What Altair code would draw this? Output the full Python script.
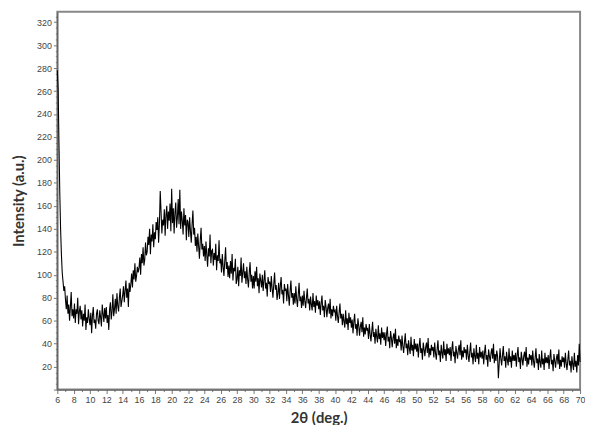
import altair as alt
import pandas as pd

# 2-theta from 6.0 to 70.0 in 0.1 deg steps; intensities (rows of 1 deg)
theta_start = 6.0
theta_step = 0.1
intensity = [
    278, 262, 215, 172, 140, 118, 102, 94, 86, 90,
    78, 70, 82, 66, 74, 60, 72, 85, 64, 70,
    62, 75, 58, 70, 66, 80, 57, 68, 73, 61,
    69, 55, 66, 60, 74, 52, 63, 58, 70, 62,
    56, 67, 49, 64, 72, 58, 61, 53, 66, 70,
    60, 57, 69, 63, 55, 74, 66, 59, 71, 62,
    72, 58, 65, 52, 70, 76, 61, 68, 83, 64,
    70, 79, 66, 84, 73, 68, 80, 88, 72, 77,
    82, 90, 76, 86, 95, 80, 88, 72, 93, 85,
    92, 101, 89, 104, 96, 110, 94, 99, 107, 102,
    106, 115, 100, 118, 110, 124, 108, 113, 128, 117,
    120, 133, 126, 140, 118, 135, 129, 144, 124, 137,
    131, 146, 139, 150, 128, 144, 173, 155, 136, 148,
    143, 157, 134, 152, 160, 140, 155, 147, 162, 138,
    175, 145, 158, 136, 154, 163, 141, 150, 166, 144,
    174, 140, 155, 147, 135, 158, 143, 152, 130, 148,
    146, 133, 150, 138, 128, 144, 156, 135, 141, 125,
    133, 120, 136, 125, 114, 130, 141, 122, 127, 116,
    125, 112, 129, 117, 107, 123, 116, 135, 110, 121,
    122, 108, 119, 113, 127, 104, 117, 112, 130, 110,
    114, 102, 118, 107, 99, 112, 124, 105, 111, 98,
    108, 97, 112, 101, 118, 95, 106, 103, 114, 92,
    96, 107, 90, 104, 99, 115, 93, 102, 110, 97,
    103, 92, 107, 96, 89, 102, 111, 94, 100, 88,
    99, 88, 103, 94, 107, 90, 97, 84, 101, 95,
    89, 100, 86, 95, 104, 88, 93, 81, 98, 92,
    94, 85, 99, 88, 80, 92, 102, 87, 91, 78,
    84, 93, 79, 90, 98, 83, 87, 75, 92, 86,
    88, 77, 92, 82, 73, 86, 95, 80, 84, 74,
    84, 75, 90, 79, 72, 83, 93, 77, 81, 71,
    82, 73, 86, 77, 71, 80, 88, 75, 79, 69,
    81, 74, 69, 84, 72, 77, 67, 82, 73, 78,
    70, 77, 65, 75, 82, 69, 73, 63, 78, 72,
    63, 71, 75, 66, 79, 62, 70, 64, 73, 68,
    69, 60, 73, 64, 58, 67, 75, 62, 66, 56,
    66, 59, 54, 69, 57, 62, 52, 67, 58, 63,
    54, 61, 49, 59, 66, 53, 57, 47, 62, 56,
    47, 55, 59, 50, 63, 46, 54, 48, 57, 52,
    53, 44, 57, 48, 42, 51, 59, 46, 50, 40,
    53, 46, 41, 56, 44, 49, 39, 54, 45, 50,
    43, 50, 38, 48, 55, 42, 46, 36, 51, 45,
    37, 45, 49, 40, 53, 36, 44, 38, 47, 42,
    43, 34, 47, 38, 32, 41, 49, 36, 40, 30,
    43, 36, 31, 46, 34, 39, 29, 44, 35, 40,
    33, 40, 28, 38, 45, 32, 36, 26, 41, 35,
    29, 37, 41, 32, 45, 28, 36, 30, 39, 34,
    37, 28, 41, 32, 26, 35, 43, 30, 34, 24,
    39, 32, 27, 42, 30, 35, 25, 40, 31, 36,
    30, 37, 25, 35, 42, 29, 33, 23, 38, 32,
    27, 35, 39, 30, 43, 26, 34, 28, 37, 32,
    35, 26, 39, 30, 24, 33, 41, 28, 32, 22,
    36, 29, 24, 39, 27, 32, 22, 37, 28, 33,
    27, 34, 22, 32, 39, 26, 30, 20, 35, 29,
    24, 32, 36, 27, 40, 23, 31, 25, 34, 29,
    10, 23, 36, 27, 21, 30, 38, 25, 29, 19,
    33, 26, 21, 36, 24, 29, 19, 34, 25, 30,
    25, 32, 20, 30, 37, 24, 28, 18, 33, 27,
    21, 29, 33, 25, 37, 20, 28, 22, 31, 26,
    30, 21, 34, 25, 19, 28, 36, 23, 27, 17,
    31, 24, 19, 34, 22, 27, 17, 32, 23, 28,
    23, 30, 18, 28, 35, 22, 26, 16, 31, 25,
    19, 27, 31, 22, 35, 18, 26, 20, 29, 24,
    28, 19, 32, 23, 17, 26, 34, 21, 25, 15,
    29, 22, 17, 32, 20, 25, 15, 30, 21, 40,
    24,
]

x_ticks = [6 + 0.5 * i for i in range(129)]      # 6 .. 70, labels every 2
y_ticks = [5 * i for i in range(66)]              # 0 .. 325, labels every 20

theta = [round(theta_start + theta_step * i, 2) for i in range(len(intensity))]
df = pd.DataFrame({"theta": theta, "intensity": intensity})

FONT = "Liberation Sans"
TFONT = "Lato"

x_axis = alt.Axis(
    title="2θ (deg.)",
    values=x_ticks,
    format="d",
    labelExpr="datum.value % 2 === 0 ? datum.label : ''",
    tickSize={"condition": {"test": "datum.value % 2 === 0", "value": 4}, "value": 2},
    labelFont=FONT, labelFontSize=9, labelColor="#444",
    labelPadding=2, labelOverlap=False, labelFlush=False,
    titleFont=TFONT, titleFontSize=15, titleFontWeight="bold", titleColor="#333",
    titlePadding=6, domainColor="#555", tickColor="#777", grid=False,
)
y_axis = alt.Axis(
    title="Intensity (a.u.)",
    values=y_ticks,
    format="d",
    labelExpr="datum.value % 20 === 0 && datum.value > 0 ? datum.label : ''",
    tickSize={"condition": {"test": "datum.value % 20 === 0", "value": 4}, "value": 2},
    labelFont=FONT, labelFontSize=9, labelColor="#444",
    labelPadding=2, labelOverlap=False, labelFlush=False,
    titleFont=TFONT, titleFontSize=15, titleFontWeight="bold", titleColor="#333",
    titlePadding=10, domainColor="#555", tickColor="#777", grid=False,
)

chart = (
    alt.Chart(df)
    .mark_line(color="black", strokeWidth=1.1)
    .encode(
        x=alt.X("theta:Q", scale=alt.Scale(domain=[6, 70], nice=False, zero=False), axis=x_axis),
        y=alt.Y("intensity:Q", scale=alt.Scale(domain=[0, 329], nice=False), axis=y_axis),
    )
    .properties(
        width=530,
        height=383,
        autosize=alt.AutoSizeParams(type="none"),
        padding={"left": 50, "top": 1, "right": 5, "bottom": 33},
        background="white",
    )
    .configure_view(stroke="#888", strokeWidth=2)
)

chart.save("out.html", embed_options={"renderer": "svg", "actions": False})
